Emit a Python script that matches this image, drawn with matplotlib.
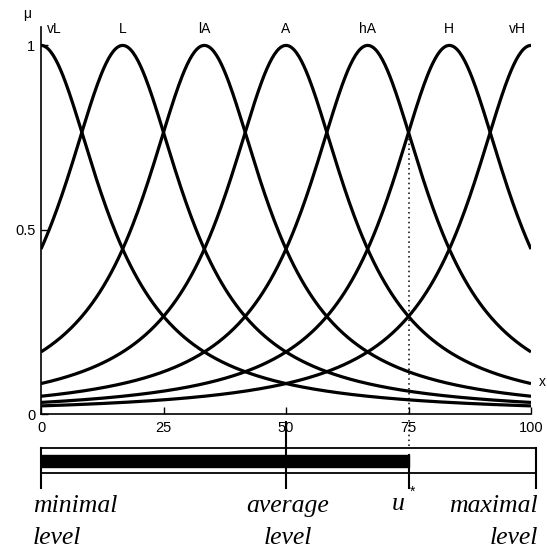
import numpy as np
import matplotlib.pyplot as plt
from matplotlib.patches import Rectangle

# linguistic terms and their bell-function centres on the 0..100 scale
terms = ["vL", "L", "lA", "A", "hA", "H", "vH"]
centres = [0, 100 / 6, 200 / 6, 50, 400 / 6, 500 / 6, 100]
width = 15.0          # half-width of each bell curve (mu = 0.5 at centre +- width)
u_star = 75           # crisp input value marked on the scale
x_ticks = [0, 25, 50, 75, 100]
x_ticklabels = ["0", "25", "50", "75", "100"]
y_ticks = [0, 0.5, 1]
y_ticklabels = ["0", "0.5", "1"]
level_labels = ["minimal\nlevel", "average\nlevel", "maximal\nlevel"]


def bell(x, c, a):
    return 1.0 / (1.0 + ((x - c) / a) ** 2)


W, H = 547, 556
fig = plt.figure(figsize=(W / 100, H / 100), dpi=100)
plt.rcParams['font.family'] = ['Liberation Sans', 'DejaVu Sans']


def fx(px):
    return px / W


def fy(py):
    return 1 - py / H


ax = fig.add_axes([fx(41), fy(414), fx(531) - fx(41), fy(27) - fy(414)])
xs = np.linspace(0, 100, 400)
for c in centres:
    ax.plot(xs, bell(xs, c, width), color="black", lw=2.3, solid_capstyle="butt")

ax.set_xlim(0, 100)
ax.set_ylim(0, 1.05)
for s in ["top", "right"]:
    ax.spines[s].set_visible(False)
ax.spines["left"].set_linewidth(1.2)
ax.spines["bottom"].set_linewidth(1.2)
ax.set_xticks(x_ticks)
ax.set_xticklabels(x_ticklabels)
ax.set_yticks(y_ticks)
ax.set_yticklabels(y_ticklabels)
ax.tick_params(direction="in", length=5, width=1, labelsize=10.5, pad=5)
ax.tick_params(axis="y", pad=4)

# term labels just above the peaks
for i, (t, c) in enumerate(zip(terms, centres)):
    if i == 0:
        ax.text(c + 1.2, 1.025, t, ha="left", va="bottom", fontsize=10)
    elif i == len(terms) - 1:
        ax.text(c - 1.0, 1.025, t, ha="right", va="bottom", fontsize=10)
    else:
        ax.text(c, 1.025, t, ha="center", va="bottom", fontsize=10)

ax.plot([u_star, u_star], [0, bell(u_star, centres[5], width)], color="black",
        lw=1.1, linestyle=(0, (1, 2.2)), clip_on=False)

fig.text(fx(27), fy(14), "\u03bc", ha="center", va="center", fontsize=10)
fig.text(fx(542), fy(382), "x", ha="center", va="center", fontsize=10)

# lower scale bar
bx = fig.add_axes([fx(41), fy(490), fx(531) - fx(41), fy(420) - fy(490)])
bx.set_xlim(0, 100)
bx.set_ylim(0, 1)
bx.axis("off")
bx.add_patch(Rectangle((0, 0.243), 101, 0.357, facecolor="white",
                       edgecolor="black", lw=1.3, clip_on=False))
bx.add_patch(Rectangle((0, 0.329), u_star, 0.171, facecolor="black",
                       edgecolor="black", lw=1, clip_on=False))
bx.plot([0, 0], [0.6, 0.03], color="black", lw=1.5, clip_on=False)
bx.plot([50, 50], [0.97, 0.03], color="black", lw=1.5, clip_on=False)
bx.plot([u_star, u_star], [0.5, 0.03], color="black", lw=1.5, clip_on=False)
bx.plot([101, 101], [0.6, 0.03], color="black", lw=1.5, clip_on=False)
bx.plot([u_star, u_star], [1.0, 0.6], color="black", lw=1.1,
        linestyle=(0, (1, 2.2)), clip_on=False)

serif = dict(family=["Liberation Serif", "DejaVu Serif"], style="italic", fontsize=18.5)
fig.text(fx(33), fy(522), level_labels[0], ha="left", va="center",
         linespacing=1.55, **serif)
fig.text(fx(288), fy(522), level_labels[1], ha="center", va="center",
         linespacing=1.55, multialignment="center", **serif)
fig.text(fx(538), fy(522), level_labels[2], ha="right", va="center",
         linespacing=1.55, multialignment="right", **serif)
fig.text(fx(398), fy(504), "u", ha="center", va="center", **serif)
fig.text(fx(413), fy(492), "*", ha="center", va="center",
         family=["Liberation Sans", "DejaVu Sans"], fontsize=10)

fig.savefig("out.png", dpi=100)
